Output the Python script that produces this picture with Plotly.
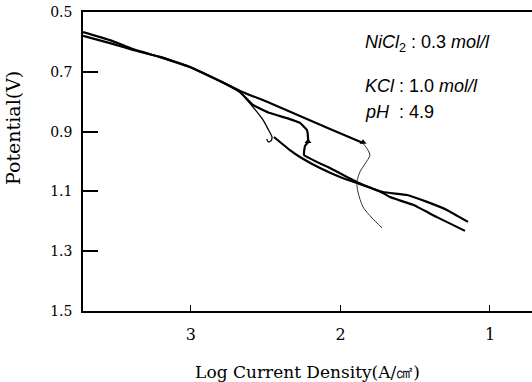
import plotly.graph_objects as go

# Log current density (x) and potential (y)
upper_x = [3.722, 3.542, 3.388, 3.207, 3.007, 2.806, 2.672, 2.472, 2.271, 2.070, 1.849]
upper_y = [0.567, 0.594, 0.624, 0.651, 0.684, 0.731, 0.764, 0.804, 0.848, 0.891, 0.938]

return_x = [1.849, 1.829, 1.803, 1.836, 1.870, 1.890, 1.883, 1.849, 1.789, 1.722]
return_y = [0.940, 0.952, 0.978, 1.008, 1.035, 1.069, 1.102, 1.152, 1.189, 1.222]

middle_x = [3.722, 3.542, 3.388, 3.207, 3.007, 2.806, 2.672, 2.585, 2.472, 2.358, 2.271,
            2.224, 2.217, 2.217, 2.237, 2.244, 2.070, 1.890, 1.716, 1.669, 1.515, 1.355, 1.167]
middle_y = [0.580, 0.604, 0.627, 0.650, 0.684, 0.731, 0.768, 0.811, 0.838, 0.855, 0.871,
            0.895, 0.921, 0.935, 0.948, 0.978, 1.022, 1.069, 1.105, 1.119, 1.145, 1.186, 1.232]

branch_x = [2.672, 2.585, 2.518, 2.485, 2.458, 2.465, 2.485, 2.492]
branch_y = [0.768, 0.818, 0.861, 0.891, 0.918, 0.931, 0.934, 0.924]

lower_x = [2.445, 2.338, 2.271, 2.137, 2.003, 1.890, 1.716, 1.555, 1.421, 1.288, 1.147]
lower_y = [0.918, 0.962, 0.985, 1.022, 1.052, 1.072, 1.102, 1.112, 1.135, 1.162, 1.202]

arrow_x = [1.849, 2.217]
arrow_y = [0.936, 0.933]

y_ticks = [0.5, 0.7, 0.9, 1.1, 1.3, 1.5]
y_tick_text = ["0.5", "0.7", "0.9", "1.1", "1.3", "1.5"]
x_ticks = [3, 2, 1]
x_tick_text = ["3", "2", "1"]

fig = go.Figure()
fig.add_trace(go.Scatter(x=upper_x, y=upper_y, mode="lines", line=dict(color="black", width=2.2, shape="spline", smoothing=0.5)))
fig.add_trace(go.Scatter(x=return_x, y=return_y, mode="lines", line=dict(color="#333", width=1, shape="spline", smoothing=0.8)))
fig.add_trace(go.Scatter(x=middle_x, y=middle_y, mode="lines", line=dict(color="black", width=2.2, shape="spline", smoothing=0.3)))
fig.add_trace(go.Scatter(x=branch_x, y=branch_y, mode="lines", line=dict(color="black", width=1.3, shape="spline", smoothing=0.6)))
fig.add_trace(go.Scatter(x=lower_x, y=lower_y, mode="lines", line=dict(color="black", width=2.2, shape="spline", smoothing=0.3)))
fig.add_trace(go.Scatter(x=arrow_x, y=arrow_y, mode="markers", marker=dict(symbol="triangle-up", size=6, color="black")))

serif = "DejaVu Serif"
fig.update_layout(
    width=532, height=382,
    margin=dict(l=83, r=0, t=12, b=71),
    paper_bgcolor="white", plot_bgcolor="white",
    showlegend=False,
    xaxis=dict(
        range=[3.722, 0.719], tickvals=x_ticks, ticktext=x_tick_text,
        ticks="inside", ticklen=6, tickwidth=1.2, tickcolor="black",
        showline=True, linecolor="black", linewidth=2, mirror=True,
        showgrid=False, zeroline=False, ticklabelstandoff=8,
        tickfont=dict(family=serif, size=16, color="black"),
        title=dict(text="Log Current Density(A/㎠)", font=dict(family=serif, size=17, color="black"), standoff=24),
    ),
    yaxis=dict(
        range=[1.5, 0.5], tickvals=y_ticks, ticktext=y_tick_text,
        ticks="inside", ticklen=15, tickwidth=2, tickcolor="black",
        showline=True, linecolor="black", linewidth=1.5, mirror=False,
        showgrid=False, zeroline=False, ticklabelstandoff=6,
        tickfont=dict(family=serif, size=14, color="black"),
    ),
)

fig.add_annotation(x=-0.156, y=0.612, xref="paper", yref="paper", xanchor="center", yanchor="middle",
                   showarrow=False, textangle=-90, text="Potential(V)",
                   font=dict(family=serif, size=19, color="black"))

ann_font = dict(family="Liberation Sans", size=18, color="black")
fig.add_annotation(x=1.850, y=0.604, xref="x", yref="y", xanchor="left", yanchor="middle", showarrow=False,
                   text="<i>NiCl</i><sub>2</sub> : 0.3 <i>mol/l</i>", font=ann_font)
fig.add_annotation(x=1.850, y=0.746, xref="x", yref="y", xanchor="left", yanchor="middle", showarrow=False,
                   text="<i>KCl</i> : 1.0 <i>mol/l</i>", font=ann_font)
fig.add_annotation(x=1.850, y=0.836, xref="x", yref="y", xanchor="left", yanchor="middle", showarrow=False,
                   text="<i>pH</i>  : 4.9", font=ann_font)

fig.write_html("out.html", config={"displayModeBar": False},
               post_script="document.body.style.margin='0px';document.body.style.overflow='hidden';")
